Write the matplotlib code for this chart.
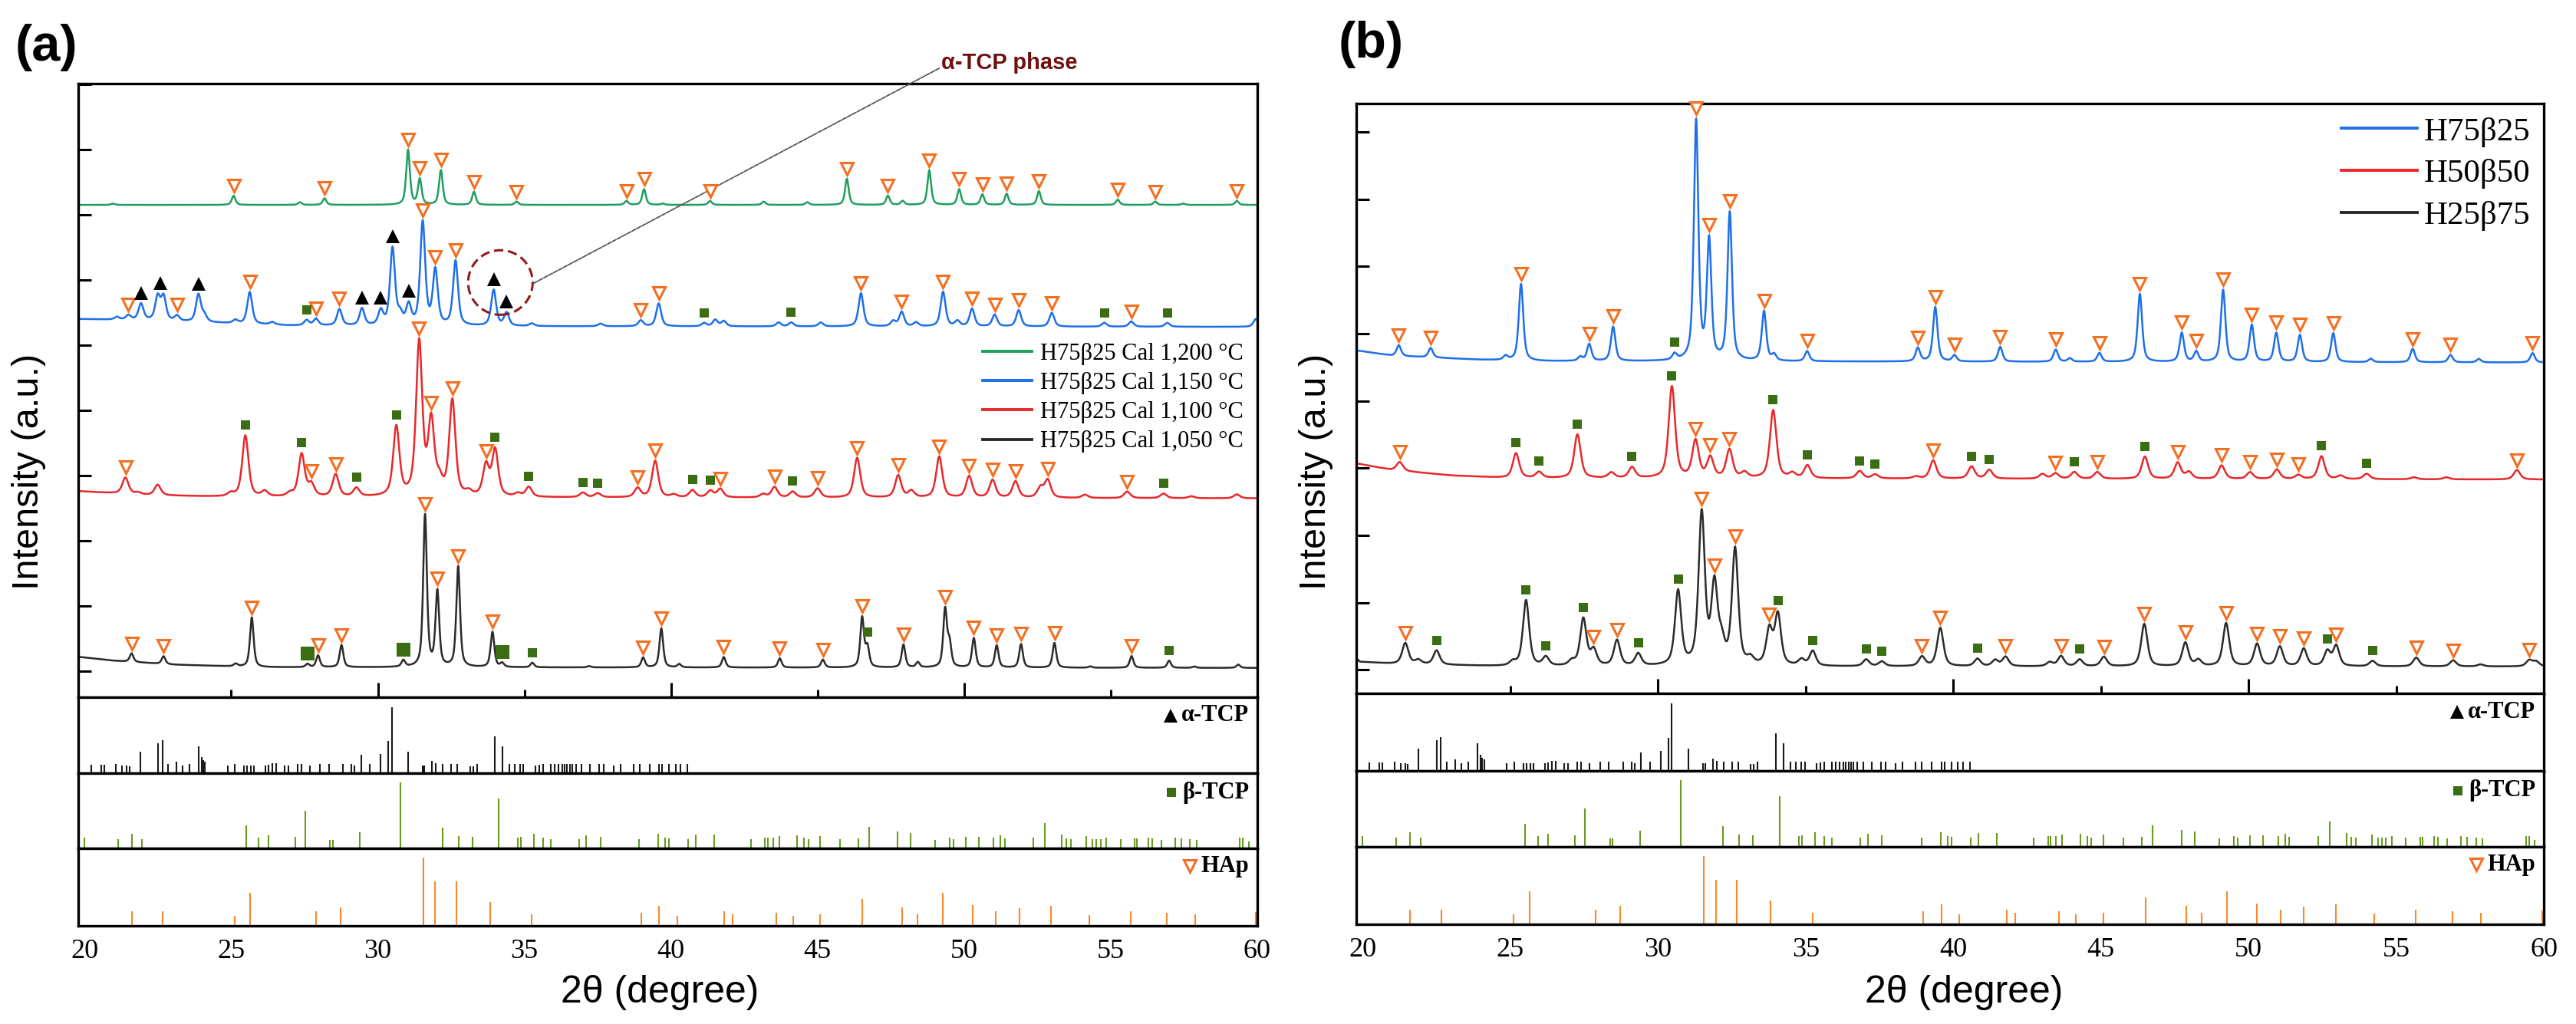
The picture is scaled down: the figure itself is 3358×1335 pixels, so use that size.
import numpy as np
import matplotlib
matplotlib.use('Agg')
import matplotlib.pyplot as plt
from matplotlib.patches import Ellipse
from matplotlib.transforms import offset_copy

W, H, DPI = 3358, 1335, 100
XMIN, XMAX = 19.78, 60.0

plt.rcParams['font.family'] = ['Liberation Sans', 'DejaVu Sans']

# ---------------- panel (a): H75b25 calcined at 1,050 - 1,200 C ----------------
# peaks: 2theta (deg) and height above baseline (a.u.)
green_t = [20.96, 25.08, 27.34, 28.18, 31.03, 31.43, 32.15, 33.28, 34.73, 38.48, 39.08, 39.72, 41.33, 43.16,
           44.65, 46.00, 47.40, 47.90, 48.81, 49.83, 50.62, 51.45, 52.55, 55.24, 56.52, 57.47, 59.30]
green_h = [0.02, 0.14, 0.04, 0.10, 0.84, 0.39, 0.53, 0.20, 0.05, 0.06, 0.24, 0.02, 0.06, 0.05,
           0.04, 0.40, 0.14, 0.06, 0.53, 0.24, 0.16, 0.17, 0.21, 0.08, 0.05, 0.02, 0.06]
green_base_t = [19.78, 60.0]
green_base_y = [7.55, 7.55]
green_hap = [25.08, 28.18, 31.03, 31.43, 32.15, 33.28, 34.73, 38.48, 39.08, 41.33, 46.00, 47.40, 48.81,
             49.83, 50.62, 51.45, 52.55, 55.24, 56.52, 59.30]

blue_t = [21.10, 21.49, 21.92, 22.49, 22.69, 23.15, 23.88, 24.08, 25.14, 25.63, 26.40, 27.57, 27.89, 28.69,
          29.46, 30.10, 30.50, 30.76, 31.05, 31.53, 31.96, 32.65, 33.95, 34.39, 35.25, 37.60, 38.97, 39.58,
          41.13, 41.51, 41.80, 43.67, 44.10, 45.11, 46.48, 47.58, 47.87, 48.36, 49.28, 49.77, 50.27, 51.04,
          51.86, 52.99, 54.78, 55.70, 56.93, 59.95]
blue_h = [0.04, 0.07, 0.25, 0.36, 0.36, 0.08, 0.42, 0.10, 0.05, 0.49, 0.04, 0.08, 0.10, 0.25,
          0.26, 0.22, 1.18, 0.15, 0.30, 1.58, 0.84, 0.99, 0.55, 0.20, 0.04, 0.04, 0.09, 0.35,
          0.05, 0.10, 0.08, 0.06, 0.06, 0.06, 0.51, 0.08, 0.22, 0.06, 0.53, 0.08, 0.27, 0.18,
          0.25, 0.21, 0.06, 0.08, 0.06, 0.12]
blue_base_t = [19.78, 22.0, 27.0, 31.0, 60.0]
blue_base_y = [5.80, 5.78, 5.70, 5.69, 5.68]
blue_alpha = [21.92, 22.59, 23.88, 29.46, 30.10, 30.50, 31.05, 33.95, 34.39]
blue_hap = [21.49, 23.15, 25.63, 27.89, 28.69, 31.53, 31.96, 32.65, 38.97, 39.58, 46.48, 47.87, 49.28,
            50.27, 51.04, 51.86, 52.99, 55.70]
blue_beta = [27.57, 41.13, 44.10, 54.78, 56.93]

red_t = [21.39, 21.82, 22.49, 24.98, 25.48, 26.14, 27.00, 27.40, 27.73, 28.56, 29.27, 30.63, 31.41, 31.82,
         32.10, 32.54, 33.10, 33.69, 34.00, 34.78, 35.15, 36.99, 37.50, 38.86, 39.46, 40.10, 40.73, 41.34,
         41.68, 43.14, 43.53, 44.15, 45.00, 46.35, 47.75, 48.20, 49.15, 50.17, 50.97, 51.75, 52.60, 52.85,
         54.12, 55.56, 56.80, 57.75, 59.30]
red_h = [0.25, 0.03, 0.16, 0.05, 0.94, 0.08, 0.05, 0.65, 0.18, 0.34, 0.13, 1.06, 2.35, 1.12,
         0.20, 1.46, 0.06, 0.47, 0.71, 0.05, 0.15, 0.07, 0.06, 0.14, 0.56, 0.04, 0.11, 0.10,
         0.13, 0.05, 0.16, 0.09, 0.14, 0.61, 0.34, 0.10, 0.63, 0.33, 0.27, 0.25, 0.15, 0.27,
         0.05, 0.10, 0.07, 0.03, 0.06]
red_base_t = [19.78, 22.0, 25.0, 60.0]
red_base_y = [3.16, 3.10, 3.07, 3.05]
red_hap = [21.39, 27.73, 28.56, 31.41, 31.82, 32.54, 33.69, 38.86, 39.46, 41.68, 43.53, 45.00, 46.35,
           47.75, 49.15, 50.17, 50.97, 51.75, 52.85, 55.56]
red_beta = [25.48, 27.40, 29.27, 30.63, 34.00, 35.15, 36.99, 37.50, 40.73, 41.34, 44.15, 56.80]

black_t = [21.60, 22.69, 25.15, 25.70, 27.60, 27.96, 28.76, 30.87, 31.61, 32.03, 32.74, 33.91, 34.24, 35.27,
           37.20, 39.05, 39.67, 40.28, 41.80, 43.71, 45.18, 46.52, 46.70, 47.93, 48.42, 49.35, 49.50, 50.33,
           51.11, 51.94, 53.08, 54.30, 55.71, 56.99, 57.85, 59.35]
black_h = [0.13, 0.12, 0.04, 0.76, 0.05, 0.18, 0.34, 0.10, 2.33, 1.15, 1.54, 0.54, 0.06, 0.07,
           0.02, 0.15, 0.60, 0.05, 0.16, 0.14, 0.12, 0.76, 0.30, 0.35, 0.08, 0.88, 0.35, 0.45,
           0.34, 0.36, 0.38, 0.02, 0.18, 0.11, 0.02, 0.05]
black_base_t = [19.78, 21.0, 23.0, 26.0, 60.0]
black_base_y = [0.62, 0.56, 0.50, 0.46, 0.45]
black_hap = [21.60, 22.69, 25.70, 27.96, 28.76, 31.61, 32.03, 32.74, 33.91, 39.05, 39.67, 41.80, 43.71,
             45.18, 46.52, 47.93, 49.35, 50.33, 51.11, 51.94, 53.08, 55.71]
black_beta = [35.27, 46.70, 56.99]
black_beta_big = [27.60, 30.87, 34.24]

# ---------------- panel (b): H75b25 / H50b50 / H25b75 ----------------
blueb_t = [21.22, 22.30, 24.84, 25.36, 27.37, 27.67, 28.48, 30.56, 31.29, 31.73, 32.43, 33.59, 33.93, 35.05,
           38.80, 39.39, 40.04, 41.59, 43.47, 43.95, 44.95, 46.32, 47.74, 48.23, 49.14, 50.11, 50.94, 51.74,
           52.87, 54.14, 55.56, 56.84, 57.80, 59.62]
blueb_h = [0.16, 0.14, 0.06, 1.14, 0.06, 0.25, 0.51, 0.09, 3.56, 1.77, 2.20, 0.74, 0.09, 0.15,
           0.20, 0.81, 0.09, 0.22, 0.18, 0.05, 0.13, 1.01, 0.43, 0.15, 1.07, 0.55, 0.43, 0.40,
           0.43, 0.05, 0.20, 0.11, 0.05, 0.14]
blueb_base_t = [19.78, 21.0, 24.0, 26.0, 60.0]
blueb_base_y = [5.10, 5.02, 4.96, 4.94, 4.92]
blueb_hap = [21.22, 22.30, 25.36, 27.67, 28.48, 31.29, 31.73, 32.43, 33.59, 35.05, 38.80, 39.39, 40.04,
             41.59, 43.47, 44.95, 46.32, 47.74, 48.23, 49.14, 50.11, 50.94, 51.74, 52.87, 55.56, 56.84, 59.62]
blueb_beta = [30.56]

redb_t = [21.25, 25.19, 25.97, 27.27, 28.42, 29.12, 30.47, 31.27, 31.77, 32.42, 32.93, 33.90, 34.55, 35.06,
          36.83, 37.35, 38.73, 39.32, 40.62, 41.22, 43.02, 43.46, 44.10, 44.88, 46.49, 47.60, 47.98, 49.09,
          50.05, 50.96, 51.69, 52.47, 53.12, 54.00, 55.60, 56.70, 59.09]
redb_h = [0.13, 0.37, 0.09, 0.65, 0.08, 0.16, 1.36, 0.55, 0.30, 0.42, 0.08, 1.01, 0.07, 0.19,
          0.11, 0.06, 0.03, 0.27, 0.18, 0.13, 0.07, 0.08, 0.10, 0.10, 0.33, 0.24, 0.10, 0.20,
          0.10, 0.14, 0.06, 0.34, 0.05, 0.08, 0.03, 0.03, 0.14]
redb_base_t = [19.78, 21.0, 23.0, 25.0, 60.0]
redb_base_y = [3.42, 3.32, 3.24, 3.20, 3.18]
redb_hap = [21.25, 31.27, 31.77, 32.42, 39.32, 43.46, 44.88, 47.60, 49.09, 50.05, 50.96, 51.69, 59.09]
redb_beta = [25.19, 25.97, 27.27, 29.12, 30.47, 33.90, 35.06, 36.83, 37.35, 40.62, 41.22, 44.10, 46.49,
             52.47, 54.00]

blackb_t = [21.44, 21.88, 22.50, 25.08, 25.53, 26.20, 27.08, 27.47, 27.82, 28.61, 29.33, 30.68, 31.48, 31.91,
            32.15, 32.61, 33.13, 33.77, 34.06, 34.86, 35.24, 37.05, 37.58, 38.94, 39.56, 40.82, 41.42, 41.77,
            43.27, 43.65, 44.28, 45.10, 46.47, 47.86, 48.30, 49.24, 50.29, 51.06, 51.87, 52.67, 52.97, 54.20,
            55.68, 56.93, 57.86, 59.51, 59.74]
blackb_h = [0.31, 0.06, 0.21, 0.06, 0.98, 0.13, 0.07, 0.70, 0.23, 0.38, 0.18, 1.10, 2.25, 1.16,
            0.30, 1.72, 0.09, 0.52, 0.75, 0.09, 0.22, 0.10, 0.07, 0.14, 0.57, 0.11, 0.09, 0.14,
            0.06, 0.15, 0.10, 0.14, 0.63, 0.35, 0.09, 0.64, 0.33, 0.29, 0.26, 0.22, 0.30, 0.08,
            0.13, 0.09, 0.03, 0.09, 0.07]
blackb_base_t = [19.78, 19.9, 21.0, 25.0, 60.0]
blackb_base_y = [0.52, 0.47, 0.44, 0.40, 0.40]
blackb_hap = [21.44, 27.82, 28.61, 31.48, 31.91, 32.61, 33.77, 38.94, 39.56, 41.77, 43.65, 45.10, 46.47,
              47.86, 49.24, 50.29, 51.06, 51.87, 52.97, 55.68, 56.93, 59.51]
blackb_beta = [22.50, 25.53, 26.20, 27.47, 29.33, 30.68, 34.06, 35.24, 37.05, 37.58, 40.82, 44.28, 52.67, 54.20]

# ---------------- reference patterns (same in both panels) ----------------
alpha_t = [20.23, 20.56, 20.67, 21.07, 21.28, 21.43, 21.53, 21.89, 22.51, 22.65,
           22.85, 23.13, 23.35, 23.58, 23.88, 23.98, 24.04, 24.11, 24.88, 25.12,
           25.44, 25.54, 25.68, 25.78, 26.17, 26.27, 26.41, 26.54, 26.83, 26.96,
           27.26, 27.40, 27.67, 28.03, 28.33, 28.82, 29.10, 29.20, 29.43, 29.73,
           30.10, 30.36, 30.47, 31.03, 31.52, 31.59, 31.85, 31.98, 32.22, 32.51,
           32.71, 33.14, 33.25, 33.38, 33.98, 34.24, 34.48, 34.67, 34.84, 34.97,
           35.37, 35.50, 35.64, 35.90, 36.02, 36.15, 36.28, 36.36, 36.45, 36.55,
           36.62, 36.75, 36.95, 37.23, 37.54, 37.70, 38.05, 38.27, 38.72, 38.94,
           39.27, 39.60, 39.70, 39.93, 40.16, 40.33, 40.56]
alpha_h = [11, 11, 11, 12, 10, 10, 9, 28, 39, 43,
           12, 15, 10, 12, 35, 21, 17, 15, 10, 12,
           10, 10, 10, 10, 10, 11, 13, 13, 10, 10,
           12, 12, 10, 12, 12, 12, 12, 10, 24, 12,
           25, 42, 86, 28, 10, 10, 16, 13, 12, 12,
           12, 9, 9, 12, 48, 35, 12, 12, 12, 12,
           10, 11, 12, 12, 12, 12, 12, 12, 12, 12,
           12, 12, 12, 12, 12, 12, 10, 12, 12, 12,
           12, 12, 12, 12, 12, 12, 12]

beta_t = [20.00, 21.13, 21.60, 21.96, 25.50, 25.93, 26.27, 27.18, 27.53, 28.37,
          28.46, 29.39, 30.76, 32.21, 32.75, 33.22, 34.11, 34.77, 34.88, 35.33,
          35.64, 35.90, 36.86, 37.10, 37.59, 38.92, 39.57, 39.80, 39.94, 40.59,
          40.85, 41.47, 42.73, 43.21, 43.30, 43.48, 43.69, 44.30, 44.53, 44.68,
          45.09, 45.77, 46.38, 46.75, 47.73, 48.18, 49.02, 49.51, 49.64, 50.06,
          50.50, 51.01, 51.24, 51.38, 52.37, 52.74, 53.33, 53.49, 53.63, 54.17,
          54.38, 54.51, 54.65, 54.85, 55.33, 55.81, 55.90, 56.28, 56.42, 56.73,
          57.20, 57.40, 57.71, 57.92, 59.40, 59.50, 59.70]
beta_h = [14, 12, 19, 12, 30, 14, 17, 15, 50, 11,
          11, 21, 87, 27, 16, 15, 66, 14, 15, 19,
          14, 12, 12, 17, 15, 12, 19, 14, 13, 12,
          18, 18, 12, 14, 14, 14, 16, 17, 14, 12,
          16, 12, 13, 28, 22, 20, 11, 14, 12, 15,
          15, 14, 17, 13, 14, 33, 18, 13, 12, 16,
          12, 12, 12, 14, 12, 13, 13, 14, 13, 11,
          14, 13, 12, 11, 14, 14, 9]

hap_t = [21.60, 22.66, 25.11, 25.64, 27.89, 28.73, 31.55, 31.96, 32.67, 33.82,
         35.24, 38.99, 39.60, 40.21, 41.81, 42.09, 43.59, 44.16, 45.09, 46.52,
         47.88, 48.41, 49.27, 50.29, 51.08, 51.88, 52.95, 54.27, 55.67, 56.92,
         57.88, 59.95]
hap_h = [19, 19, 13, 42, 19, 24, 87, 57, 57, 30,
         15, 17, 25, 13, 19, 15, 17, 13, 15, 34,
         24, 15, 42, 26, 19, 23, 25, 14, 19, 17,
         15, 18]

labels_a = ['H75\u03b225 Cal 1,200 \u00b0C', 'H75\u03b225 Cal 1,150 \u00b0C',
            'H75\u03b225 Cal 1,100 \u00b0C', 'H75\u03b225 Cal 1,050 \u00b0C']
labels_b = ['H75\u03b225', 'H50\u03b250', 'H25\u03b275']

C_GREEN, C_BLUE, C_RED, C_BLACK = '#1f9f5f', '#1e6fe8', '#e8282b', '#2b2b2b'
C_HAP, C_BETA, C_BETA_STICK = '#f36f21', '#3b6e13', '#6a9a1f'

HAP_MK = dict(marker='v', ms=11, mfc='white', mec=C_HAP, mew=2.2)
BETA_MK = dict(marker='s', ms=9, mfc=C_BETA, mec=C_BETA, mew=0)
BETA_BIG_MK = dict(marker='s', ms=13, mfc=C_BETA, mec=C_BETA, mew=0)
ALPHA_MK = dict(marker='^', ms=13, mfc='black', mec='black', mew=0)

x = np.linspace(XMIN, XMAX, 6000)


def pattern(pk_t, pk_h, fwhm, base_t, base_y):
    y = np.interp(x, base_t, base_y)
    for c, h in zip(pk_t, pk_h):
        d = (x - c) / (fwhm / 2)
        y = y + h * (0.6 / (1 + d ** 2) + 0.4 * np.exp(-np.log(2) * d ** 2))
    return y


def top(curve, t):
    m = np.abs(x - t) < 0.08
    return curve[m].max()


fig = plt.figure(figsize=(W / DPI, H / DPI), dpi=DPI)


def box(l, r, t, b):
    return fig.add_axes([l / W, 1 - b / H, (r - l) / W, (b - t) / H])


def style_main(ax, ymax, y0):
    ax.set_xlim(XMIN, XMAX)
    ax.set_ylim(0, ymax)
    ax.set_yticks(np.arange(y0, ymax, 1.0))
    ax.set_xticks([30, 40, 50])
    ax.set_xticks([25, 35, 45, 55], minor=True)
    ax.tick_params(axis='y', direction='in', length=12, width=2.2, labelleft=False)
    ax.tick_params(axis='x', which='major', direction='in', length=14, width=2.2, labelbottom=False)
    ax.tick_params(axis='x', which='minor', direction='in', length=7, width=2.2, labelbottom=False)
    for s in ax.spines.values():
        s.set_linewidth(2.4)


def style_ref(ax, last):
    ax.set_xlim(XMIN, XMAX)
    ax.set_ylim(0, 99)
    ax.set_yticks([])
    for s in ax.spines.values():
        s.set_linewidth(2.4)
    if last:
        ax.set_xticks(range(20, 61, 5))
        ax.tick_params(axis='x', length=0, pad=12, labelsize=26)
        for lab in ax.get_xticklabels():
            lab.set_family('Liberation Serif')
    else:
        ax.set_xticks([])


def draw_curve(ax, curve, color, label, marks):
    line, = ax.plot(x, curve, color=color, lw=1.8, label=label)
    tr = offset_copy(ax.transData, fig=fig, y=9.5, units='points')
    for pts, kw in marks:
        ys = [top(curve, t) for t in pts]
        ax.plot(pts, ys, ls='none', transform=tr, clip_on=False, zorder=4, **kw)
    return line


ref_labels = []


def draw_refs(axs):
    ax_al, ax_be, ax_ha = axs
    ax_al.vlines(alpha_t, 0, alpha_h, color='#1a1a1a', lw=1.5)
    ax_be.vlines(beta_t, 0, beta_h, color=C_BETA_STICK, lw=1.5)
    ax_ha.vlines(hap_t, 0, hap_h, color='#f58a2e', lw=1.5)
    for ax, txt, mk, yy in ((ax_al, '\u03b1-TCP', ALPHA_MK, 0.76), (ax_be, '\u03b2-TCP', BETA_MK, 0.74),
                            (ax_ha, 'HAp', HAP_MK, 0.77)):
        t = ax.text(0.993, yy, txt, transform=ax.transAxes, ha='right', va='center', fontsize=22,
                    fontweight='bold', family='Liberation Serif')
        ref_labels.append((ax, t, mk, yy))


def make_legend(ax, handles, x_line, y_first, pitch, size, hl, htp):
    """legend whose first handle starts at x_line and whose rows sit every `pitch` px"""
    rend = fig.canvas.get_renderer()
    ls, ax_x, ax_y = 0.3, x_line, y_first - size * DPI / 72 * 0.6
    for _ in range(4):
        leg = ax.legend(handles=handles, loc='upper left', bbox_to_anchor=(ax_x / W, 1 - ax_y / H),
                        bbox_transform=fig.transFigure, frameon=False, borderpad=0, borderaxespad=0,
                        handlelength=hl, handletextpad=htp, labelspacing=ls,
                        prop={'family': 'Liberation Serif', 'size': size})
        for ln in leg.get_lines():
            ln.set_linewidth(2.8)
        fig.canvas.draw()
        cy = [(t.get_window_extent(rend).y0 + t.get_window_extent(rend).y1) / 2 for t in leg.get_texts()]
        p = (cy[0] - cy[-1]) / (len(cy) - 1)
        ls += (pitch - p) / (size * DPI / 72)
        ax_y -= (H - y_first) - cy[0]
        hx = leg.get_lines()[0].get_window_extent(rend).x0
        ax_x += x_line - hx
    return leg


# ---------- panel (a) ----------
ax_a = box(102, 1639, 109, 909)
refs_a = [box(102, 1639, 909, 1008), box(102, 1639, 1008, 1106), box(102, 1639, 1106, 1207)]
style_main(ax_a, 9.41, 0.4)
for i, r in enumerate(refs_a):
    style_ref(r, i == 2)

g = pattern(green_t, green_h, 0.15, green_base_t, green_base_y)
b = pattern(blue_t, blue_h, 0.20, blue_base_t, blue_base_y)
rd = pattern(red_t, red_h, 0.25, red_base_t, red_base_y)
k = pattern(black_t, black_h, 0.15, black_base_t, black_base_y)
la = [draw_curve(ax_a, g, C_GREEN, labels_a[0], [(green_hap, HAP_MK)]),
      draw_curve(ax_a, b, C_BLUE, labels_a[1], [(blue_hap, HAP_MK), (blue_beta, BETA_MK), (blue_alpha, ALPHA_MK)]),
      draw_curve(ax_a, rd, C_RED, labels_a[2], [(red_hap, HAP_MK), (red_beta, BETA_MK)]),
      draw_curve(ax_a, k, C_BLACK, labels_a[3], [(black_hap, HAP_MK), (black_beta, BETA_MK),
                                                 (black_beta_big, BETA_BIG_MK)])]
draw_refs(refs_a)

# alpha-TCP phase call-out
ax_a.add_patch(Ellipse((34.18, 6.36), width=2.2, height=0.99, fill=False, ec='#8e1b1b',
                       ls=(0, (4, 2)), lw=2.2, zorder=5))
ax_a.annotate('\u03b1-TCP phase', xy=(35.28, 6.34), xycoords='data',
              xytext=(1227, H - 82), textcoords='figure pixels', ha='left', va='center',
              fontsize=21, fontweight='bold', color='#6e1010', annotation_clip=False,
              arrowprops=dict(arrowstyle='-', color='#555555', lw=1.3, ls=(0, (3, 1)),
                              shrinkA=0, shrinkB=0, relpos=(0, 0.3)))

# ---------- panel (b) ----------
ax_b = box(1768, 3316, 135, 904)
refs_b = [box(1768, 3316, 904, 1005), box(1768, 3316, 1005, 1104), box(1768, 3316, 1104, 1205)]
style_main(ax_b, 8.77, 0.35)
for i, r in enumerate(refs_b):
    style_ref(r, i == 2)

bb_ = pattern(blueb_t, blueb_h, 0.18, blueb_base_t, blueb_base_y)
rb_ = pattern(redb_t, redb_h, 0.26, redb_base_t, redb_base_y)
kb_ = pattern(blackb_t, blackb_h, 0.25, blackb_base_t, blackb_base_y)
lb = [draw_curve(ax_b, bb_, C_BLUE, labels_b[0], [(blueb_hap, HAP_MK), (blueb_beta, BETA_MK)]),
      draw_curve(ax_b, rb_, C_RED, labels_b[1], [(redb_hap, HAP_MK), (redb_beta, BETA_MK)]),
      draw_curve(ax_b, kb_, C_BLACK, labels_b[2], [(blackb_hap, HAP_MK), (blackb_beta, BETA_MK)])]
draw_refs(refs_b)

# ---------- titles / axis labels ----------
fig.text(60 / W, 1 - 62 / H, '(a)', fontsize=48, fontweight='bold', ha='center', va='center')
fig.text(1787 / W, 1 - 58 / H, '(b)', fontsize=48, fontweight='bold', ha='center', va='center')
for xc in (38, 1715):
    fig.text(xc / W, 1 - 615 / H, 'Intensity (a.u.)', fontsize=35, rotation=90, ha='center', va='center')
for xc in (860, 2560):
    fig.text(xc / W, 1 - 1294 / H, '2\u03b8 (degree)', fontsize=36, ha='center', va='center')

# legends placed to the measured rows
make_legend(ax_a, la, 1281, 461, 38.3, 22, 2.1, 0.35)
make_legend(ax_b, lb, 3052, 172, 54.6, 31, 2.3, 0.2)

# markers in front of the reference labels
fig.canvas.draw()
rend = fig.canvas.get_renderer()
for ax, t, mk, yy in ref_labels:
    ext = t.get_window_extent(rend)
    xa, _ = ax.transAxes.inverted().transform((ext.x0 - 14, 0))
    ax.plot([xa], [yy], ls='none', transform=ax.transAxes, clip_on=False, **mk)

fig.savefig('out.png', dpi=DPI)
